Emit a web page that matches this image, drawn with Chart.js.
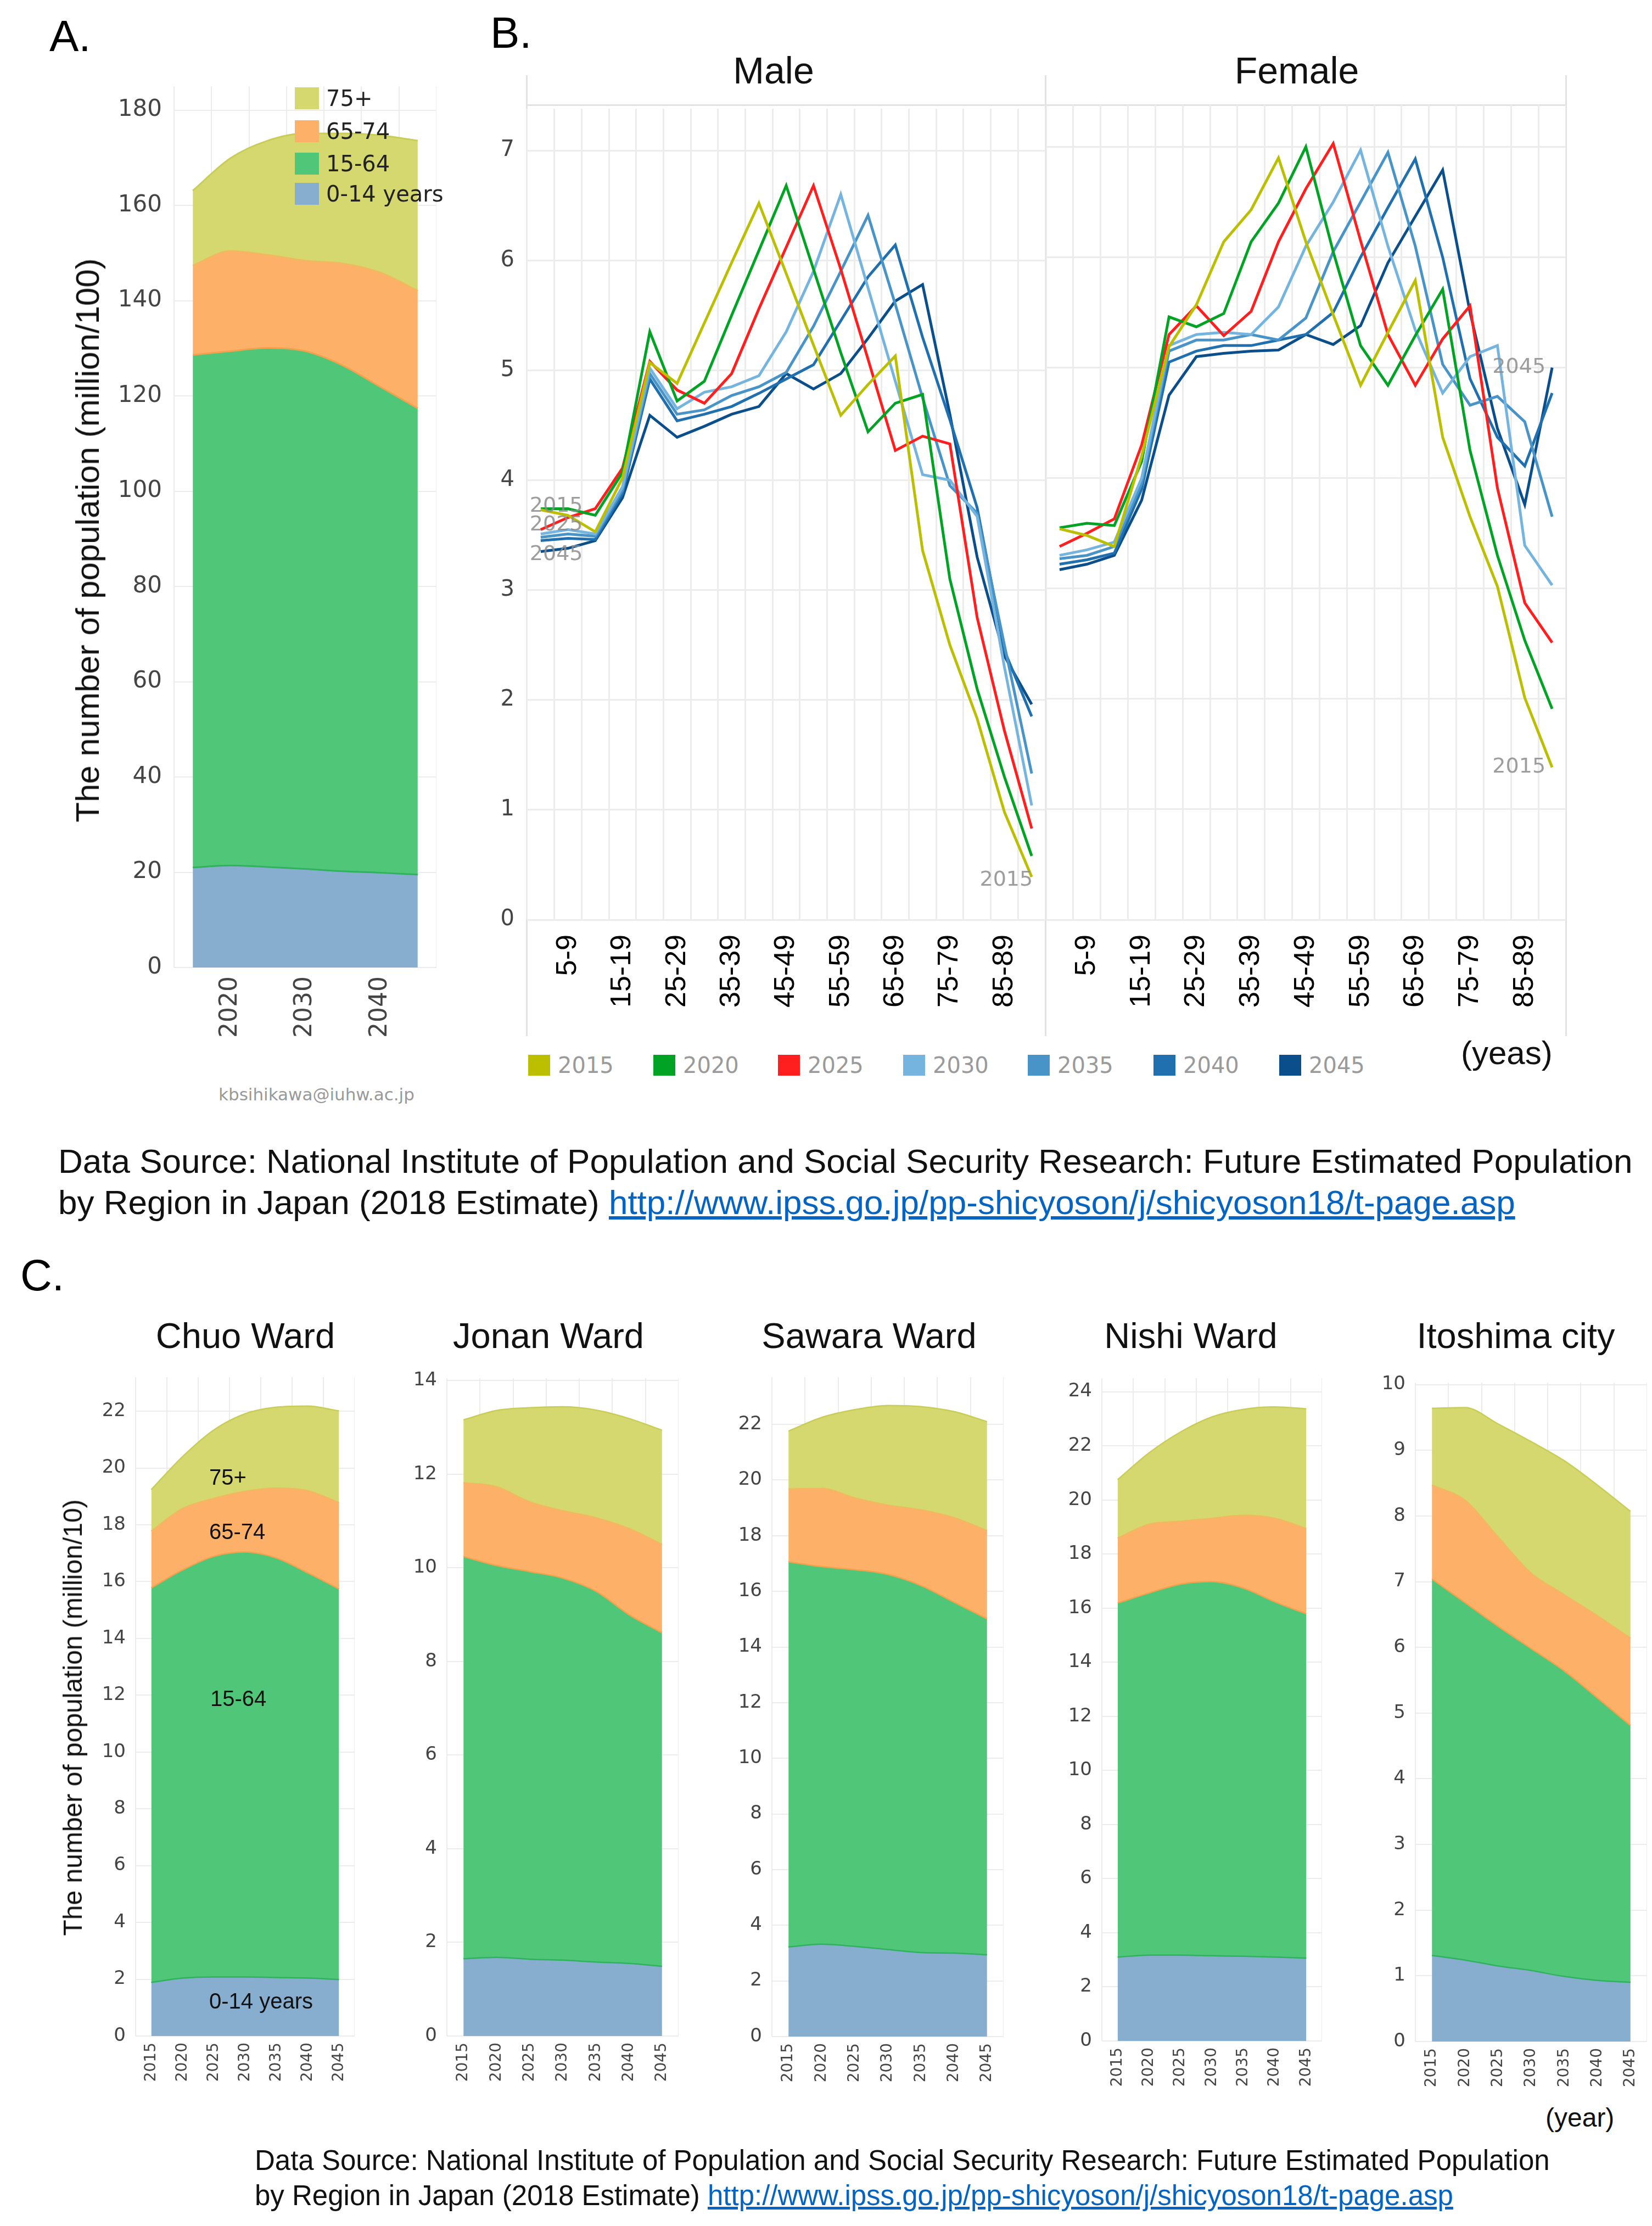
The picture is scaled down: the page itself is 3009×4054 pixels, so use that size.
<!DOCTYPE html>
<html lang="en">
<head>
<meta charset="UTF-8">
<title>Future Estimated Population</title>
<script src="https://cdn.jsdelivr.net/npm/chart.js"></script>
<style>
  html, body { margin: 0; padding: 0; background: #fff; }
  body { width: 3009px; height: 4054px; position: relative; overflow: hidden; font-family: "Liberation Sans", Arial, sans-serif; }
  .box { position: absolute; }
  .txt { position: absolute; white-space: nowrap; line-height: 1; }
  .rot { transform: translate(-50%, -50%) rotate(-90deg); }
  .ctr { transform: translateX(-50%); }
  .ln { position: absolute; background: #e2e2e2; }
  .sq { position: absolute; }
  a { color: #0563c1; text-decoration: underline; }
</style>
</head>
<body>
<script>
// ---- data ----
const years = ['2015', '2020', '2025', '2030', '2035', '2040', '2045'];
const ageGroups = ['0-4', '5-9', '10-14', '15-19', '20-24', '25-29', '30-34', '35-39', '40-44', '45-49',
                   '50-54', '55-59', '60-64', '65-69', '70-74', '75-79', '80-84', '85-89', '90+'];

// A. whole area, by age band
const aKids     = [21.0, 21.4, 21.1, 20.7, 20.2, 19.9, 19.5];
const aWork     = [107.6, 108.0, 109.0, 108.7, 106.2, 102.0, 97.9];
const aYoungOld = [18.8, 21.0, 19.5, 19.0, 21.4, 24.0, 24.7];
const aOld      = [15.7, 19.5, 24.0, 26.7, 27.3, 28.8, 31.5];

// B. share of population by age group (%), male
const male2015 = [3.73, 3.68, 3.53, 4.02, 5.07, 4.88, 5.43, 5.98, 6.52, 5.88, 5.23, 4.59, 4.87, 5.13, 3.36, 2.50, 1.83, 0.98, 0.39];
const male2020 = [3.74, 3.74, 3.68, 4.07, 5.35, 4.72, 4.90, 5.50, 6.09, 6.68, 5.92, 5.16, 4.44, 4.70, 4.78, 3.10, 2.10, 1.30, 0.58];
const male2025 = [3.55, 3.66, 3.74, 4.11, 5.08, 4.82, 4.70, 4.97, 5.56, 6.12, 6.68, 5.92, 5.10, 4.27, 4.40, 4.33, 2.75, 1.72, 0.83];
const male2030 = [3.51, 3.55, 3.51, 3.94, 5.02, 4.65, 4.80, 4.85, 4.95, 5.35, 5.90, 6.60, 5.75, 4.90, 4.05, 4.00, 3.67, 2.30, 1.04];
const male2035 = [3.48, 3.51, 3.49, 3.91, 4.97, 4.60, 4.64, 4.77, 4.85, 4.98, 5.40, 5.90, 6.41, 5.60, 4.75, 3.95, 3.70, 2.50, 1.33];
const male2040 = [3.45, 3.47, 3.46, 3.88, 4.92, 4.54, 4.60, 4.67, 4.79, 4.92, 5.05, 5.45, 5.85, 6.14, 5.30, 4.55, 3.75, 2.45, 1.85];
const male2045 = [3.35, 3.38, 3.45, 3.84, 4.59, 4.39, 4.49, 4.60, 4.67, 4.97, 4.83, 4.97, 5.29, 5.63, 5.78, 4.60, 3.30, 2.40, 1.96];
// female
const female2015 = [3.54, 3.48, 3.38, 4.20, 5.19, 5.57, 6.14, 6.43, 6.90, 6.14, 5.48, 4.84, 5.32, 5.79, 4.37, 3.65, 3.02, 2.01, 1.38];
const female2020 = [3.55, 3.59, 3.57, 4.15, 5.46, 5.37, 5.49, 6.14, 6.49, 7.00, 6.05, 5.20, 4.84, 5.29, 5.71, 4.25, 3.30, 2.53, 1.91];
const female2025 = [3.38, 3.50, 3.63, 4.30, 5.30, 5.56, 5.29, 5.51, 6.14, 6.62, 7.03, 6.15, 5.30, 4.84, 5.26, 5.56, 3.91, 2.87, 2.51];
const female2030 = [3.30, 3.35, 3.42, 4.00, 5.20, 5.30, 5.32, 5.30, 5.55, 6.10, 6.50, 6.97, 6.10, 5.34, 4.77, 5.10, 5.20, 3.39, 3.03];
const female2035 = [3.27, 3.30, 3.38, 3.95, 5.15, 5.25, 5.25, 5.30, 5.25, 5.45, 6.05, 6.50, 6.95, 6.10, 5.03, 4.66, 4.74, 4.51, 3.65];
const female2040 = [3.22, 3.26, 3.32, 3.90, 5.05, 5.15, 5.20, 5.20, 5.25, 5.30, 5.50, 6.00, 6.45, 6.89, 6.00, 4.90, 4.37, 4.11, 4.77];
const female2045 = [3.17, 3.22, 3.30, 3.80, 4.75, 5.10, 5.13, 5.15, 5.16, 5.30, 5.21, 5.38, 5.95, 6.37, 6.79, 5.50, 4.45, 3.76, 5.00];

// C. wards
const chuoKids     = [1.89, 2.04, 2.08, 2.08, 2.06, 2.04, 1.99];
const chuoWork     = [13.89, 14.37, 14.81, 14.96, 14.77, 14.27, 13.75];
const chuoYoungOld = [2.00, 2.16, 2.04, 2.14, 2.46, 2.89, 3.04];
const chuoOld      = [1.46, 1.83, 2.41, 2.73, 2.85, 2.98, 3.23];

const jonanKids     = [1.65, 1.68, 1.64, 1.62, 1.58, 1.55, 1.49];
const jonanWork     = [8.59, 8.37, 8.28, 8.16, 7.92, 7.45, 7.12];
const jonanYoungOld = [1.58, 1.68, 1.49, 1.44, 1.57, 1.84, 1.89];
const jonanOld      = [1.34, 1.63, 2.01, 2.22, 2.30, 2.35, 2.44];

const sawaraKids     = [3.22, 3.32, 3.24, 3.13, 3.02, 3.00, 2.94];
const sawaraWork     = [13.84, 13.57, 13.54, 13.48, 13.19, 12.61, 12.07];
const sawaraYoungOld = [2.62, 2.81, 2.58, 2.49, 2.72, 3.04, 3.17];
const sawaraOld      = [2.08, 2.55, 3.17, 3.58, 3.71, 3.81, 3.92];

const nishiKids     = [3.10, 3.17, 3.17, 3.15, 3.13, 3.10, 3.06];
const nishiWork     = [13.09, 13.39, 13.72, 13.83, 13.61, 13.13, 12.73];
const nishiYoungOld = [2.40, 2.54, 2.32, 2.34, 2.69, 3.09, 3.15];
const nishiOld      = [2.16, 2.64, 3.30, 3.75, 3.92, 4.12, 4.43];

const itoKids     = [1.31, 1.24, 1.15, 1.08, 0.99, 0.93, 0.90];
const itoWork     = [5.73, 5.44, 5.17, 4.90, 4.65, 4.30, 3.91];
const itoYoungOld = [1.43, 1.56, 1.36, 1.15, 1.16, 1.25, 1.33];
const itoOld      = [1.17, 1.41, 1.72, 2.00, 2.04, 1.99, 1.93];

// ---- styles ----
const bandNames  = ['0-14 years', '15-64', '65-74', '75+'];
const bandFill   = ['#88aecf', '#50c679', '#fdb068', '#d4d86e'];
const bandBorder = ['#2fb25c', '#f5a04c', '#f2b860', '#c9cd58'];
const yearColors = ['#bcbf00', '#00a323', '#ff1f1f', '#74b4de', '#4894c8', '#2070b0', '#0a4f8c'];
const gridColor = '#ececec';
const PAD_TOP = 40;

Chart.defaults.animation = false;
Chart.defaults.font.family = '"DejaVu Sans", sans-serif';

// helpers for overlay text
function addText(text, x, y, size, opts = {}) {
  const d = document.createElement('div');
  d.className = 'txt' + (opts.cls ? ' ' + opts.cls : '');
  d.style.left = x + 'px';
  d.style.top = (opts.cls === 'rot' ? y : y - size / 2) + 'px';
  d.style.fontSize = size + 'px';
  d.style.color = opts.color || '#111';
  if (opts.font) d.style.fontFamily = opts.font;
  d.innerHTML = text;
  document.body.appendChild(d);
  return d;
}
function addLine(x, y, w, h) {
  const d = document.createElement('div');
  d.className = 'ln';
  Object.assign(d.style, { left: x + 'px', top: y + 'px', width: w + 'px', height: h + 'px' });
  document.body.appendChild(d);
}
function addSquare(x, y, w, h, color) {
  const d = document.createElement('div');
  d.className = 'sq';
  Object.assign(d.style, { left: x + 'px', top: y + 'px', width: w + 'px', height: h + 'px', background: color });
  document.body.appendChild(d);
}
// canvas whose plot area lands on [left,right]x[top,bottom]
function chartBox(left, top, right, bottom, yW, xH) {
  const d = document.createElement('div');
  d.className = 'box';
  Object.assign(d.style, {
    left: (left - yW) + 'px', top: (top - PAD_TOP) + 'px',
    width: (right - left + yW) + 'px', height: (bottom - top + PAD_TOP + xH) + 'px'
  });
  const c = document.createElement('canvas');
  d.appendChild(c);
  document.body.appendChild(d);
  return c;
}
// fixed x axis height, and no side padding from rotated labels
function fixX(h) {
  return s => { s.height = h; s.paddingLeft = 0; s.paddingRight = 0; };
}

// stacked area chart (panel A and C)
function areaChart(canvas, bands, cfg) {
  const datasets = bands.map((vals, i) => ({
    label: bandNames[i],
    data: vals,
    backgroundColor: bandFill[i],
    borderColor: bandBorder[i],
    borderWidth: cfg.lw || 3,
    fill: i === 0 ? 'origin' : '-1',
    pointRadius: 0,
    tension: 0.3,
    cubicInterpolationMode: 'monotone'
  }));
  return new Chart(canvas, {
    type: 'line',
    data: { labels: years, datasets: datasets },
    options: {
      responsive: true,
      maintainAspectRatio: false,
      layout: { padding: { top: PAD_TOP } },
      plugins: { legend: { display: false }, tooltip: { enabled: false } },
      scales: {
        x: {
          offset: true,
          grid: { offset: true, color: gridColor, lineWidth: 2, drawTicks: false },
          border: { display: false },
          ticks: {
            autoSkip: false, maxRotation: 90, minRotation: 90, padding: cfg.xPad,
            color: '#444', font: { size: cfg.xFont },
            callback: function (v) {
              const lab = this.getLabelForValue(v);
              return cfg.showYears ? (cfg.showYears.includes(lab) ? lab : '') : lab;
            }
          },
          afterFit: fixX(cfg.xH)
        },
        y: {
          stacked: true, min: 0, max: cfg.yMax,
          grid: { color: gridColor, lineWidth: 2, drawTicks: false },
          border: { display: false },
          ticks: { stepSize: cfg.step, includeBounds: false, padding: cfg.yPad, color: '#444', font: { size: cfg.yFont } },
          afterFit: s => { s.width = cfg.yW; }
        }
      }
    }
  });
}

// gray year labels at line ends (panel B)
const endLabels = {
  id: 'endLabels',
  afterDatasetsDraw(chart, args, opts) {
    const ctx = chart.ctx;
    ctx.save();
    ctx.font = '38px "DejaVu Sans"';
    ctx.fillStyle = 'rgba(140,140,140,0.85)';
    ctx.textBaseline = 'middle';
    (opts.items || []).forEach(it => {
      const pt = chart.getDatasetMeta(it.ds).data[it.idx];
      ctx.textAlign = it.align;
      ctx.fillText(it.text, pt.x + it.dx, pt.y + it.dy);
    });
    ctx.restore();
  }
};

function ageChart(canvas, series, showY, labels) {
  return new Chart(canvas, {
    type: 'line',
    data: {
      labels: ageGroups,
      datasets: series.map((vals, i) => ({
        label: years[i], data: vals, borderColor: yearColors[i], backgroundColor: yearColors[i],
        borderWidth: 5, pointRadius: 0, tension: 0, fill: false
      }))
    },
    plugins: [endLabels],
    options: {
      responsive: true,
      maintainAspectRatio: false,
      layout: { padding: { top: PAD_TOP } },
      plugins: { legend: { display: false }, tooltip: { enabled: false }, endLabels: { items: labels } },
      scales: {
        x: {
          offset: true,
          grid: { offset: true, color: gridColor, lineWidth: 3, drawTicks: false },
          border: { display: false },
          ticks: {
            autoSkip: false, maxRotation: 90, minRotation: 90, padding: 27,
            color: '#000', font: { size: 52, family: '"Liberation Sans", Arial, sans-serif' },
            callback: (v, i) => (i % 2 === 1 ? ageGroups[i] : '')
          },
          afterFit: fixX(212)
        },
        y: {
          min: 0, max: 7.38,
          grid: { color: gridColor, lineWidth: 3, drawTicks: false },
          border: { display: false },
          ticks: { display: showY, stepSize: 1, includeBounds: false, padding: 23, color: '#444', font: { size: 40 } },
          afterFit: s => { s.width = showY ? 80 : 0; }
        }
      }
    }
  });
}

// ---------------- panel A ----------------
addText('A.', 90, 66, 80, { color: '#000' });
areaChart(chartBox(317, 150, 795, 1762, 130, 140), [aKids, aWork, aYoungOld, aOld], {
  yMax: 185, step: 20, yPad: 22, yFont: 42, yW: 130, xH: 140, xPad: 16, xFont: 44,
  showYears: ['2020', '2030', '2040']
});
addText('The number of population (million/100)', 160, 984, 60, { cls: 'rot', color: '#111' });
// legend
[[3, '75+', 179], [2, '65-74', 239], [1, '15-64', 298], [0, '0-14 years', 353]].forEach(([k, name, cy]) => {
  addSquare(537, cy - 20, 44, 40, bandFill[k]);
  addText(name, 594, cy, 40, { color: '#222', font: '"DejaVu Sans", sans-serif' });
});
addText('kbsihikawa@iuhw.ac.jp', 398, 1993, 31, { color: '#999', font: '"DejaVu Sans", sans-serif' });

// ---------------- panel B ----------------
addText('B.', 893, 60, 80, { color: '#000' });
addText('Male', 1409, 128, 68, { cls: 'ctr', color: '#111' });
addText('Female', 2362, 128, 68, { cls: 'ctr', color: '#111' });
addLine(958, 137, 3, 1750);
addLine(1903, 137, 3, 1750);
addLine(2851, 137, 3, 1750);
addLine(958, 190, 1896, 3);

ageChart(chartBox(960, 191, 1904, 1675, 80, 212),
  [male2015, male2020, male2025, male2030, male2035, male2040, male2045], true, [
    { ds: 0, idx: 0, text: '2015', align: 'left', dx: -20, dy: -6 },
    { ds: 2, idx: 0, text: '2025', align: 'left', dx: -20, dy: -8 },
    { ds: 6, idx: 0, text: '2045', align: 'left', dx: -20, dy: 6 },
    { ds: 0, idx: 18, text: '2015', align: 'right', dx: 2, dy: 6 }
  ]);
ageChart(chartBox(1905, 191, 2852, 1675, 0, 212),
  [female2015, female2020, female2025, female2030, female2035, female2040, female2045], false, [
    { ds: 6, idx: 18, text: '2045', align: 'right', dx: -12, dy: 0 },
    { ds: 0, idx: 18, text: '2015', align: 'right', dx: -12, dy: 0 }
  ]);
// legend
const legX = [962, 1190, 1417, 1645, 1872, 2101, 2330];
years.forEach((y, i) => {
  addSquare(legX[i], 1921, 40, 38, yearColors[i]);
  addText(y, legX[i] + 54, 1940, 40, { color: '#9a9a9a', font: '"DejaVu Sans", sans-serif' });
});
addText('(yeas)', 2661, 1918, 60, { color: '#111' });

// source note (top)
addText('Data Source: National Institute of Population and Social Security Research: Future Estimated Population', 106, 2115, 62);
addText('by Region in Japan (2018 Estimate) <a>http://www.ipss.go.jp/pp-shicyoson/j/shicyoson18/t-page.asp</a>', 106, 2190, 62);

// ---------------- panel C ----------------
addText('C.', 37, 2323, 80, { color: '#000' });
const wardCfg = { step: 2, yPad: 18, yFont: 34, yW: 100, xH: 110, xPad: 12, xFont: 28, lw: 2.5 };

addText('Chuo Ward', 447, 2432, 65, { cls: 'ctr' });
areaChart(chartBox(247, 2508, 646, 3708, 100, 110), [chuoKids, chuoWork, chuoYoungOld, chuoOld],
  Object.assign({}, wardCfg, { yMax: 23.2 }));

addText('Jonan Ward', 999, 2432, 65, { cls: 'ctr' });
areaChart(chartBox(814, 2510, 1236, 3708, 100, 110), [jonanKids, jonanWork, jonanYoungOld, jonanOld],
  Object.assign({}, wardCfg, { yMax: 14.05 }));

addText('Sawara Ward', 1583, 2432, 65, { cls: 'ctr' });
areaChart(chartBox(1406, 2508, 1828, 3709, 100, 110), [sawaraKids, sawaraWork, sawaraYoungOld, sawaraOld],
  Object.assign({}, wardCfg, { yMax: 23.7 }));

addText('Nishi Ward', 2169, 2432, 65, { cls: 'ctr' });
areaChart(chartBox(2007, 2510, 2408, 3717, 100, 110), [nishiKids, nishiWork, nishiYoungOld, nishiOld],
  Object.assign({}, wardCfg, { yMax: 24.5 }));

addText('Itoshima city', 2761, 2432, 65, { cls: 'ctr' });
areaChart(chartBox(2578, 2518, 3000, 3718, 100, 110), [itoKids, itoWork, itoYoungOld, itoOld],
  Object.assign({}, wardCfg, { yMax: 10.03, step: 1 }));

addText('The number of population (million/10)', 133, 3128, 48, { cls: 'rot' });
// band names written inside Chuo Ward
addText('75+', 381, 2690, 40);
addText('65-74', 381, 2789, 40);
addText('15-64', 383, 3093, 40);
addText('0-14 years', 381, 3644, 40);
addText('(year)', 2815, 3857, 48);

// source note (bottom)
addText('Data Source: National Institute of Population and Social Security Research: Future Estimated Population', 464, 3934, 51);
addText('by Region in Japan (2018 Estimate) <a>http://www.ipss.go.jp/pp-shicyoson/j/shicyoson18/t-page.asp</a>', 464, 3998, 51);
</script>
</body>
</html>
